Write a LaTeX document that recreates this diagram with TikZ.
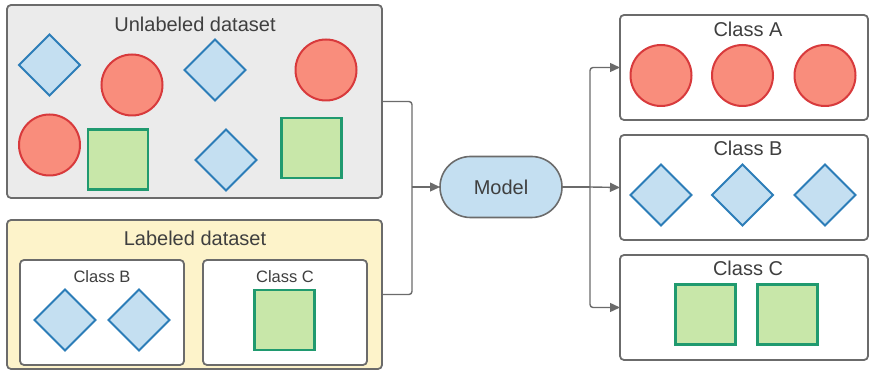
\documentclass[tikz,border=0pt]{standalone}
\usepackage{fontspec}
\setmainfont{Liberation Sans}
\usetikzlibrary{arrows.meta,shapes.geometric,shapes.misc}

\definecolor{boxgray}{HTML}{EBEBEB}
\definecolor{boxyellow}{HTML}{FDF3CA}
\definecolor{linegray}{HTML}{6B6B6B}
\definecolor{txtgray}{HTML}{3F3F3F}
\definecolor{redfill}{HTML}{F98D7C}
\definecolor{redline}{HTML}{D83A3C}
\definecolor{bluefill}{HTML}{C4DFF1}
\definecolor{blueline}{HTML}{2C7DB8}
\definecolor{greenfill}{HTML}{C8E7A9}
\definecolor{greenline}{HTML}{209A6F}

\begin{document}
\begin{tikzpicture}[x=1pt,y=-1pt,
    every node/.style={outer sep=0pt,inner sep=0pt,text=txtgray},
    box/.style={draw=linegray,line width=1.8pt,rounded corners=4pt,anchor=north west},
    big/.style={font=\fontsize{20}{24}\selectfont},
    small/.style={font=\fontsize{16.5}{20}\selectfont},
    ball/.style={circle,draw=redline,fill=redfill,line width=2pt,minimum size=61pt},
    gem/.style={diamond,draw=blueline,fill=bluefill,line width=2pt,minimum size=61pt},
    sq/.style={rectangle,draw=greenline,fill=greenfill,line width=2.2pt,minimum size=60pt},
    link/.style={draw=linegray,line width=1.4pt,rounded corners=3pt},
    tip/.style={-{Triangle[length=10pt,width=9pt]}}]

  \useasboundingbox (0,0) rectangle (871,371);

  % unlabeled data
  \node[box,fill=boxgray,minimum width=375pt,minimum height=193pt] (U) at (7,5) {};
  \node[big] (Utitle) at (195,24) {Unlabeled dataset};
  \node[gem] (u1) at (49.5,65) {};
  \node[ball] (u2) at (132,85) {};
  \node[gem] (u3) at (215,70) {};
  \node[ball] (u4) at (326,70) {};
  \node[ball] (u5) at (49.5,145) {};
  \node[sq] (u6) at (118,159.5) {};
  \node[gem] (u7) at (226,160) {};
  \node[sq] (u8) at (311.5,148) {};

  % labeled data
  \node[box,fill=boxyellow,minimum width=375pt,minimum height=149pt] (L) at (7,220) {};
  \node[big] (Ltitle) at (195,238) {Labeled dataset};
  \node[box,fill=white,minimum width=164pt,minimum height=105pt] (LB) at (20,260) {};
  \node[small] (LBtitle) at (102,277) {Class B};
  \node[gem] (lb1) at (65,320) {};
  \node[gem] (lb2) at (139,320) {};
  \node[box,fill=white,minimum width=164pt,minimum height=105pt] (LC) at (203,260) {};
  \node[small] (LCtitle) at (285,277) {Class C};
  \node[sq] (lc1) at (284.5,320) {};

  % model
  \node[rounded rectangle,draw=linegray,fill=bluefill,line width=1.6pt,
        minimum width=122pt,minimum height=61pt,big] (M) at (501,187) {Model};

  % output classes
  \node[box,fill=white,minimum width=248pt,minimum height=105pt] (A) at (620,15) {};
  \node[big] (Atitle) at (748,29) {Class A};
  \foreach \x [count=\i] in {661,742.5,825} \node[ball] (a\i) at (\x,75.5) {};

  \node[box,fill=white,minimum width=248pt,minimum height=105pt] (B) at (620,135) {};
  \node[big] (Btitle) at (748,148) {Class B};
  \foreach \x [count=\i] in {661,742.5,825} \node[gem] (b\i) at (\x,195) {};

  \node[box,fill=white,minimum width=248pt,minimum height=105pt] (C) at (620,255) {};
  \node[big] (Ctitle) at (748,268) {Class C};
  \node[sq] (c1) at (705.5,314.5) {};
  \node[sq] (c2) at (787.5,314.5) {};

  % connectors
  \coordinate (join) at (412,187);
  \coordinate (fork) at (590,187);
  \path[link] (U.east) -| (join);
  \path[link] (L.east) -| (join);
  \path[link,tip] (join) -- (M.west);
  \path[link] (M.east) -- (fork);
  \path[link,tip] (fork) |- (A.west);
  \path[link,tip] (fork) -- (B.west);
  \path[link,tip] (fork) |- (C.west);

\end{tikzpicture}
\end{document}
